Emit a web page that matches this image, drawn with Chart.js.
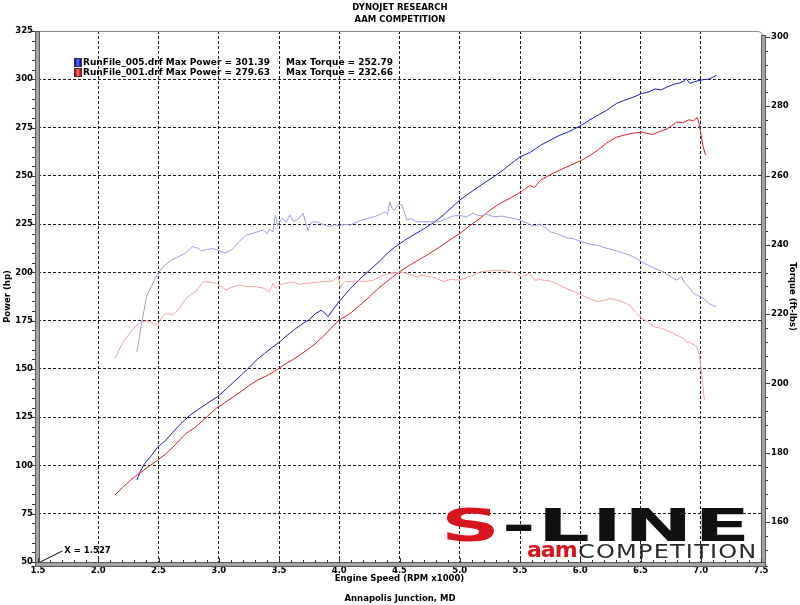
<!DOCTYPE html>
<html>
<head>
<meta charset="utf-8">
<script src="https://cdn.jsdelivr.net/npm/chart.js@4.4.0/dist/chart.umd.min.js"></script>
<style>
  body { margin: 0; background: #fff; }
  #wrap { position: relative; width: 800px; height: 605px; overflow: hidden; }
  canvas { position: absolute; left: 0; top: 0; }
  .leg { position: absolute; left: 74px; height: 10px; font: bold 9px 'DejaVu Sans', Verdana, sans-serif; line-height: 10px; color: #000; white-space: pre; }
  .leg .sw { position: absolute; left: 0; top: 1px; width: 6px; height: 7px; border: 1px solid #333; }
  .leg .t1 { position: absolute; left: 9px; top: 0; }
  .leg .t2 { position: absolute; left: 212px; top: 0; }
  #logo { position: absolute; left: 440px; top: 504px; pointer-events: none; }
  #sline { position: absolute; left: 1px; top: 0; font: bold 44px 'DejaVu Sans', sans-serif; line-height: 44px; letter-spacing: 1px; color: #111; transform: scaleX(1.86); transform-origin: left top; white-space: pre; }
  #sline .s { color: #d8141e; }
  #aam { position: absolute; left: 87px; top: 34px; font: bold 22px 'DejaVu Sans', sans-serif; line-height: 24px; color: #d8141e; letter-spacing: -1px; }
  #comp { position: absolute; left: 138px; top: 35px; font: normal 20px 'DejaVu Sans', sans-serif; line-height: 24px; color: #2a2a2a; letter-spacing: 1px; transform: scaleX(1.2); transform-origin: left top; white-space: pre; }
</style>
</head>
<body>
<div id="wrap">
  <canvas id="dyno" width="800" height="605"></canvas>
  <div id="legend"></div>
  <div id="logo">
    <div id="sline"><span class="s">S</span>-LINE</div>
    <div id="aam">aam</div>
    <div id="comp">COMPETITION</div>
  </div>
</div>
<script>
// axis ticks
const rpmTicks = [1.5, 2.0, 2.5, 3.0, 3.5, 4.0, 4.5, 5.0, 5.5, 6.0, 6.5, 7.0, 7.5];
const hpTicks  = [50, 75, 100, 125, 150, 175, 200, 225, 250, 275, 300, 325];
const tqTicks  = [160, 180, 200, 220, 240, 260, 280, 300];

// run summary (legend)
const runNames  = ['RunFile_005.drf', 'RunFile_001.drf'];
const maxPower  = [301.39, 279.63];
const maxTorque = [252.79, 232.66];
const cursorRpm = 1.527;

// RunFile_005 power (hp)
const pwr005Rpm = [2.32,2.35,2.385,2.44,2.495,2.56,2.63,2.70,2.76,2.83,2.90,2.99,3.06,3.12,3.19,3.257,3.32,3.38,3.44,3.506,3.56,3.63,3.70,3.75,3.80,3.85,3.88,3.907,3.94,4.0,4.09,4.17,4.25,4.33,4.40,4.46,4.54,4.62,4.70,4.79,4.87,4.94,5.0,5.08,5.16,5.22,5.28,5.36,5.43,5.5,5.58,5.63,5.67,5.75,5.83,5.91,6.01,6.08,6.15,6.22,6.30,6.36,6.43,6.51,6.57,6.62,6.67,6.72,6.78,6.82,6.86,6.88,6.91,6.95,7.02,7.06,7.10,7.13];
const pwr005Hp  = [92.4,97,101,105,109.7,113,118,122.5,126,129,132,135.6,139.5,143,147,151,155,158,161,164,167,170.5,173.6,175.5,178.5,180.4,179,177,180,185,191.5,196.5,201,205.5,210,213,216.5,219.5,222.5,226,230,234,237.4,241,244.5,247,249.4,253,256.5,259.8,262,264,265.8,268.5,271,273,276.2,279,281.5,284,287.4,289,290.5,292.6,293.5,295,294.5,296,297.5,298,299,300.4,297.8,298.8,299.8,300,301,302];

// RunFile_001 power (hp)
const pwr001Rpm = [2.14,2.20,2.27,2.34,2.42,2.495,2.56,2.62,2.68,2.73,2.80,2.88,2.98,3.05,3.12,3.19,3.257,3.33,3.40,3.48,3.55,3.62,3.68,3.73,3.80,3.87,3.93,4.0,4.09,4.17,4.25,4.33,4.42,4.50,4.58,4.66,4.75,4.83,4.91,5.0,5.08,5.17,5.25,5.33,5.42,5.51,5.58,5.62,5.67,5.75,5.83,5.92,6.01,6.08,6.15,6.22,6.30,6.36,6.43,6.51,6.55,6.60,6.66,6.72,6.76,6.80,6.85,6.90,6.94,6.97,6.98,7.00,7.02,7.04];
const pwr001Hp  = [84.7,88.5,92.5,95.9,99.5,102.8,106,109.5,113.5,116.6,119.5,124,129.6,132.5,135.5,138.5,141.6,144.5,146.5,149.4,152.5,155,157.5,159.7,163,167,171,175.3,178.7,183,187.3,192,196.5,200.3,203.5,206.5,209.8,213,216.5,220.1,224,228,232.2,235.5,238.5,241.7,245,244,247.7,250.5,253,255.5,258,260.5,263.5,267,270,271,272,272.6,272,271.4,273,274.3,276,277.9,277.5,279,278.5,280.2,278.7,272,265,260.7];

// RunFile_005 torque (ft-lbs)
const tq005Rpm = [2.32,2.34,2.357,2.38,2.40,2.44,2.495,2.55,2.606,2.66,2.717,2.785,2.83,2.86,2.90,2.95,2.99,3.05,3.09,3.12,3.17,3.23,3.30,3.37,3.40,3.42,3.45,3.47,3.49,3.50,3.53,3.56,3.59,3.62,3.66,3.70,3.72,3.74,3.77,3.81,3.86,3.92,3.96,4.0,4.05,4.09,4.16,4.23,4.30,4.35,4.38,4.40,4.42,4.44,4.46,4.49,4.52,4.54,4.56,4.60,4.64,4.70,4.77,4.83,4.88,4.94,5.0,5.05,5.11,5.17,5.22,5.28,5.35,5.42,5.50,5.56,5.61,5.67,5.75,5.82,5.89,5.95,6.01,6.08,6.15,6.22,6.30,6.36,6.41,6.46,6.51,6.57,6.63,6.69,6.74,6.80,6.84,6.87,6.90,6.94,6.98,7.02,7.07,7.13];
const tq005Ft  = [209.1,213,216.9,221,225,228,231.8,234,235.6,236.5,237.5,239.5,239,238.2,238.7,238.9,238.5,237.7,238.2,239,241,242.8,243.5,244.3,243.2,244.5,243.8,248.6,245.5,246.3,247.7,246.5,248.6,246.8,247.5,249.1,246.5,244.3,246.5,246.7,246,245.2,245.8,245.5,245.9,245.7,246.8,247.6,248.2,249,249.5,248.8,252.4,250.5,250,251.8,251.5,249.5,247.2,247.5,246.7,246.6,246.7,246.7,247.4,248.3,248.6,248,249.1,248.3,248.9,248.1,248.3,247.8,247.2,246.2,245.4,246,243.8,243,242,241.7,240.9,240.2,239.8,239,238.3,237.6,237,236.2,235.1,234,233,232.2,231,229.8,230.8,228.9,227.8,226,225.3,224.6,223,222.1];

// RunFile_001 torque (ft-lbs)
const tq001Rpm = [2.14,2.17,2.20,2.24,2.27,2.31,2.357,2.40,2.43,2.47,2.495,2.53,2.565,2.60,2.634,2.68,2.717,2.76,2.81,2.84,2.87,2.92,2.98,3.02,3.06,3.11,3.17,3.23,3.31,3.37,3.42,3.44,3.45,3.47,3.50,3.56,3.62,3.67,3.73,3.80,3.88,3.95,3.99,4.01,4.02,4.05,4.09,4.15,4.22,4.28,4.35,4.42,4.47,4.52,4.58,4.64,4.70,4.75,4.80,4.86,4.92,5.0,5.06,5.11,5.17,5.24,5.31,5.36,5.42,5.47,5.51,5.55,5.58,5.62,5.67,5.69,5.75,5.82,5.89,5.95,6.01,6.07,6.14,6.20,6.25,6.30,6.36,6.41,6.46,6.51,6.56,6.61,6.66,6.72,6.77,6.82,6.85,6.88,6.92,6.97,6.99,7.01,7.03];
const tq001Ft  = [207.2,209.5,211.6,213.5,214.9,216.5,217.8,218,217.8,216.8,217.1,219.2,220.2,219.8,220.2,222,224,225.5,226.5,228,229.4,229.3,228.9,228,227,227.8,228.4,228,227.9,227.5,226.5,227.9,228.9,227.5,228.5,228.9,229.3,228.6,228.9,229.2,229.4,229.6,231,227.5,228.4,229.5,229.4,229.6,229.4,229.8,231,231.8,232,232.2,231.5,230.8,231.2,230.8,230.4,229.4,230,229.8,230.6,231.2,232.2,232.5,232.7,232.6,232.2,231.7,230.8,231.4,231.8,229.8,230,229.8,229.6,228.5,227.3,226.5,225.5,224.6,223.6,224,224.5,224.1,223.4,222.6,220.5,218.8,217.8,216.4,216,215.3,214.5,213.6,213.2,212,211.6,210.6,207.7,201.9,195.2];

const FONT = "'DejaVu Sans', Verdana, sans-serif";
const f9 = { family: FONT, size: 8.5, weight: 'bold' };

const BLUE = '#1a1ad2';
const RED = '#e01c22';
const LBLUE = '#9c9ce8';
const LRED = '#f4a2a2';

// legend
const legColors = [
  'linear-gradient(90deg,#0000a8,#5a6cff 45%,#0000c0)',
  'linear-gradient(90deg,#b00000,#ff6a6a 45%,#d00000)'
];
document.getElementById('legend').innerHTML = runNames.map((n, i) => `
  <div class="leg" style="top:${57 + i * 10}px">
    <span class="sw" style="background:${legColors[i]}"></span>
    <span class="t1">${n} Max Power = ${maxPower[i].toFixed(2)}</span>
    <span class="t2">Max Torque = ${maxTorque[i].toFixed(2)}</span>
  </div>`).join('');

const pts = (xs, ys) => xs.map((v, i) => ({ x: v, y: ys[i] }));

function line(data, color, axis) {
  return { data, borderColor: color, borderWidth: 1, pointRadius: 0, tension: 0, fill: false, yAxisID: axis };
}

// axis bars, minor ticks, cursor note
const frame = {
  id: 'frame',
  afterDraw(chart) {
    const { ctx, chartArea: a, scales: { x, y, y2 } } = chart;
    ctx.save();
    // top border with rounded corner
    ctx.strokeStyle = '#8a8a8a';
    ctx.lineWidth = 1;
    ctx.beginPath();
    ctx.moveTo(a.left, a.top + 0.5);
    ctx.lineTo(a.right - 4, a.top + 0.5);
    ctx.quadraticCurveTo(a.right + 2, a.top + 0.5, a.right + 2, a.top + 6);
    ctx.stroke();

    const bar = (bx, by, w, h) => {
      ctx.fillStyle = '#a4a4a4';
      ctx.fillRect(bx, by, w, h);
      ctx.strokeStyle = '#5a5a5a';
      ctx.strokeRect(bx + 0.5, by + 0.5, w - 1, h - 1);
    };
    bar(a.left - 3, a.top, 5, a.bottom - a.top + 5);
    bar(a.right, a.top + 4, 5, a.bottom - a.top + 1);
    bar(a.left - 3, a.bottom, a.right - a.left + 8, 5);

    ctx.strokeStyle = '#333';
    ctx.beginPath();
    for (let v = hpTicks[0]; v <= hpTicks[hpTicks.length - 1]; v += 5) {
      const py = Math.round(y.getPixelForValue(v)) + 0.5;
      const len = hpTicks.includes(v) ? 5 : 3;
      ctx.moveTo(a.left - 3 - len, py); ctx.lineTo(a.left - 3, py);
    }
    for (let i = 0; i <= 60; i++) {
      const v = rpmTicks[0] + i / 10;
      const px = Math.round(x.getPixelForValue(v)) + 0.5;
      const len = i % 5 === 0 ? 4 : 2;
      ctx.moveTo(px, a.bottom - len); ctx.lineTo(px, a.bottom + 1);
    }
    for (let v = 152; v <= 300; v += 4) {
      const py = Math.round(y2.getPixelForValue(v)) + 0.5;
      const len = tqTicks.includes(v) ? 4 : 2;
      ctx.moveTo(a.right + 5, py); ctx.lineTo(a.right + 5 + len, py);
    }
    ctx.stroke();

    // cursor readout
    const cx = x.getPixelForValue(cursorRpm);
    ctx.strokeStyle = '#000';
    ctx.beginPath();
    ctx.moveTo(cx - 1, a.bottom);
    ctx.lineTo(cx + 21, a.bottom - 11);
    ctx.stroke();
    ctx.fillStyle = '#000';
    ctx.font = `bold 8.5px ${FONT}`;
    ctx.textBaseline = 'middle';
    ctx.fillText('X = ' + cursorRpm.toFixed(3), cx + 23, a.bottom - 11);
    ctx.restore();
  }
};

const edge = (vals) => (c) => (c.tick && (c.tick.value === vals[0] || c.tick.value === vals[vals.length - 1])) ? 'rgba(0,0,0,0)' : '#1a1a1a';

new Chart(document.getElementById('dyno').getContext('2d'), {
  type: 'line',
  data: {
    datasets: [
      line(pts(tq005Rpm, tq005Ft), LBLUE, 'y2'),
      line(pts(tq001Rpm, tq001Ft), LRED, 'y2'),
      line(pts(pwr001Rpm, pwr001Hp), RED, 'y'),
      line(pts(pwr005Rpm, pwr005Hp), BLUE, 'y'),
    ]
  },
  options: {
    responsive: false,
    animation: false,
    events: [],
    layout: { padding: 0 },
    plugins: {
      legend: { display: false },
      tooltip: { enabled: false },
      title: { display: true, text: ['DYNOJET RESEARCH', 'AAM COMPETITION'], color: '#000', font: { ...f9, lineHeight: '12px' }, padding: { top: 2, bottom: 5 } },
      subtitle: { display: true, position: 'bottom', text: 'Annapolis Junction, MD', color: '#000', font: { ...f9, lineHeight: '12px' }, padding: { top: 5, bottom: 0 } },
    },
    scales: {
      x: {
        type: 'linear', min: rpmTicks[0], max: rpmTicks[rpmTicks.length - 1],
        afterBuildTicks: s => { s.ticks = rpmTicks.map(v => ({ value: v })); },
        afterFit: s => { s.height = 26; },
        grid: { color: edge(rpmTicks), lineWidth: 1, drawTicks: false },
        border: { display: false, dash: [3, 2] },
        ticks: { color: '#000', font: f9, padding: 4, maxRotation: 0, autoSkip: false, callback: v => v.toFixed(1) },
        title: { display: true, text: 'Engine Speed (RPM x1000)', color: '#000', font: f9, padding: { top: 0, bottom: 4 } }
      },
      y: {
        position: 'left', min: hpTicks[0], max: hpTicks[hpTicks.length - 1],
        afterBuildTicks: s => { s.ticks = hpTicks.map(v => ({ value: v })); },
        afterFit: s => { s.width = 38; },
        grid: { color: edge(hpTicks), lineWidth: 1, drawTicks: false },
        border: { display: false, dash: [3, 2] },
        ticks: { color: '#000', font: f9, padding: 5 },
        title: { display: true, text: 'Power (hp)', color: '#000', font: f9, padding: { top: 3, bottom: 0 } }
      },
      y2: {
        position: 'right', min: 148.45, max: 301.73,
        afterBuildTicks: s => { s.ticks = tqTicks.map(v => ({ value: v })); },
        afterFit: s => { s.width = 39; },
        grid: { display: false, drawTicks: false },
        border: { display: false },
        ticks: { color: '#000', font: f9, padding: 10 },
        title: { display: true, text: 'Torque (ft-lbs)', color: '#000', font: f9, padding: { top: 3, bottom: 0 } }
      }
    }
  },
  plugins: [frame]
});
</script>
</body>
</html>
